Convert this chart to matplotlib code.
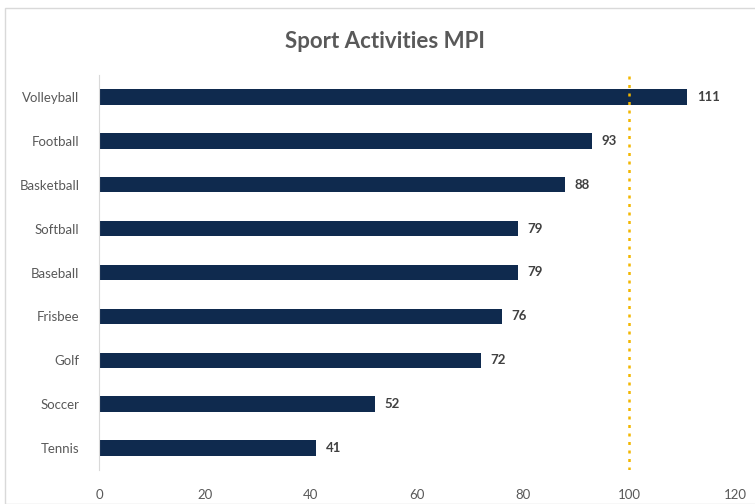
import matplotlib.pyplot as plt
from matplotlib.patches import Rectangle

plt.rcParams['font.family'] = ['Lato', 'DejaVu Sans']

sports = ["Volleyball", "Football", "Basketball", "Softball", "Baseball",
          "Frisbee", "Golf", "Soccer", "Tennis"]
mpi = [111, 93, 88, 79, 79, 76, 72, 52, 41]
xticks = [0, 20, 40, 60, 80, 100, 120]
benchmark = 100

fig = plt.figure(figsize=(7.55, 5.04), dpi=100)
ax = fig.add_axes([99/755, 1-470/504, 636/755, 395/504])

pos = list(range(len(sports)))
ax.barh(pos, mpi, height=0.35, color="#0f2a4e")
for p, v in zip(pos, mpi):
    ax.text(v + 1.8, p, str(v), va="center", ha="left", fontsize=9.5,
            fontweight="bold", color="#404040")

ax.axvline(benchmark, color="#f2b600", linestyle=(0, (1.2, 2.2)), linewidth=1.8)

ax.set_ylim(8.5, -0.5)
ax.set_xlim(0, 120)
ax.set_yticks(pos)
ax.set_yticklabels(sports)
ax.set_xticks(xticks)
ax.tick_params(axis="both", length=0, labelsize=9.5, colors="#595959")
ax.tick_params(axis="y", pad=14)
ax.tick_params(axis="x", pad=14)
for s in ["top", "right", "bottom"]:
    ax.spines[s].set_visible(False)
ax.spines["left"].set_color("#d9d9d9")

fig.text(385/755, 1-42/504, "Sport Activities MPI", ha="center", va="center",
         fontsize=16, fontweight="bold", color="#595959")

fig.patches.append(Rectangle((5/755, 0), 1, 1-8/504, transform=fig.transFigure,
                             fill=False, edgecolor="#d9d9d9", linewidth=1))

fig.savefig("out.png", dpi=100)
